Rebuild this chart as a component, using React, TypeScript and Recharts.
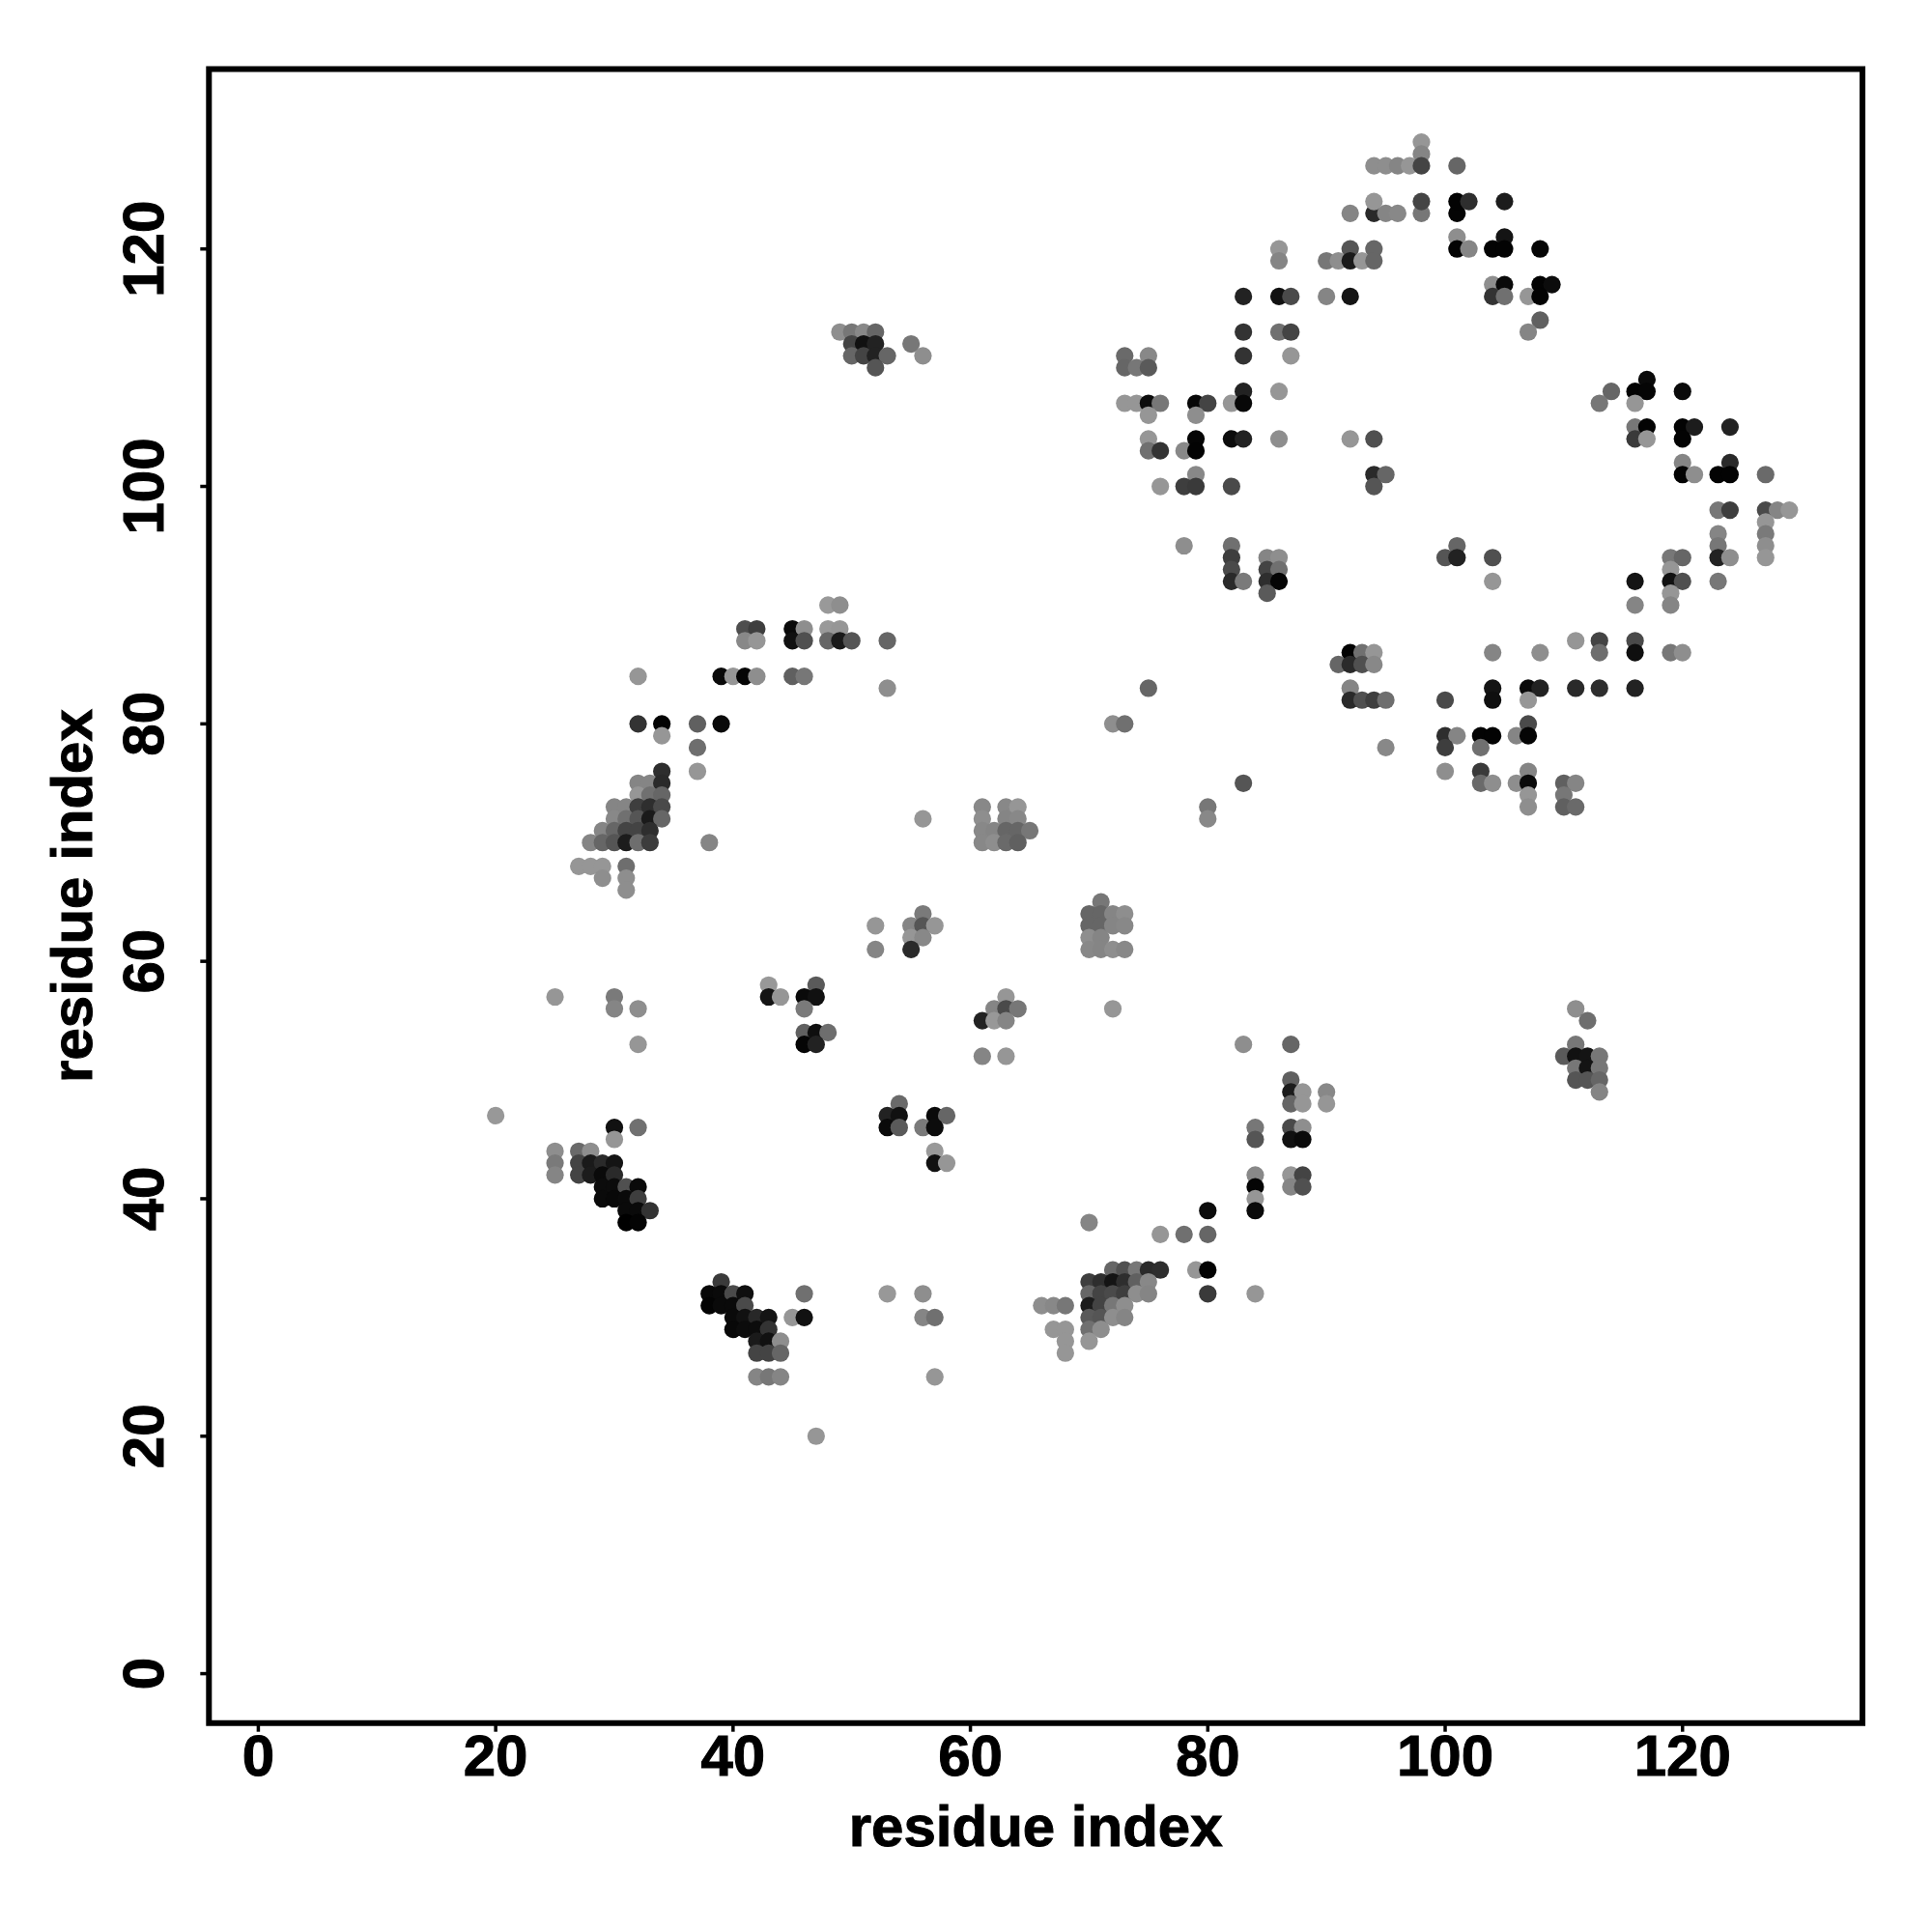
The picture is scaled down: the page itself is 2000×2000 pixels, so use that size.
import React from 'react';
import { ScatterChart, Scatter, XAxis, YAxis, ReferenceArea, Label } from 'recharts';

type P = [number, number, number];

const tickValues = [0, 20, 40, 60, 80, 100, 120];
const axisMin = -4.16;
const axisMax = 135.16;
const axisTitle = 'residue index';

// each entry: residue x, residue y, grey level
const helixTurnsLowerLeft: P[] = [
  [25,57,150],[30,57,122],[30,56,133],[32,56,142],[32,53,150],[20,47,152],
  [30,46,17],[32,46,112],[30,45,150],[25,44,142],[27,44,106],[28,44,142],
  [25,43,122],[27,43,68],[28,43,26],[29,43,42],[30,43,20],
  [25,42,133],[27,42,68],[28,42,28],[29,42,10],[30,42,42],
  [29,41,12],[30,41,12],[31,41,80],[32,41,10],
  [29,40,10],[30,40,8],[31,40,10],[32,40,62],
  [31,39,10],[32,39,10],[33,39,51],[31,38,0],[32,38,4],
];
const sheetLowerLeft: P[] = [
  [39,33,58],[38,32,8],[39,32,10],[40,32,74],[41,32,15],[46,32,112],[53,32,152],[56,32,142],
  [38,31,4],[39,31,10],[40,31,10],[41,31,74],
  [40,30,10],[41,30,17],[42,30,40],[43,30,20],[45,30,150],[46,30,17],[56,30,133],[57,30,112],
  [40,29,8],[41,29,12],[42,29,12],[43,29,51],
  [42,28,26],[43,28,17],[44,28,142],[42,27,68],[43,27,68],[44,27,102],
  [42,25,133],[43,25,119],[44,25,133],[57,25,150],[47,20,150],
];
const middlePatches: P[] = [
  [43,58,152],[47,58,90],[43,57,20],[44,57,150],[46,57,10],[47,57,17],[46,56,122],
  [46,54,96],[47,54,15],[48,54,110],[46,53,5],[47,53,34],
  [54,48,106],[53,47,34],[54,47,17],[57,47,10],[58,47,102],[53,46,10],[54,46,90],[56,46,122],[57,46,12],
  [57,44,153],[57,43,17],[58,43,150],
  [63,57,150],[62,56,133],[63,56,74],[64,56,119],[61,55,34],[62,55,152],[63,55,133],[61,52,133],[63,52,150],[72,56,150],
  [52,63,150],[52,61,133],[56,64,122],[55,63,133],[56,63,85],[57,63,150],[55,62,150],[56,62,136],[55,61,42],
  [61,73,136],[63,73,136],[64,73,150],[61,72,142],[63,72,133],[64,72,136],
  [61,71,136],[62,71,133],[63,71,102],[64,71,102],[65,71,119],
  [61,70,136],[62,70,142],[63,70,106],[64,70,96],[80,73,119],[80,72,136],[56,72,150],
  [71,65,119],[70,64,102],[71,64,102],[72,64,133],[73,64,142],
  [70,63,102],[71,63,102],[72,63,133],[73,63,136],[70,62,142],[71,62,133],
  [70,61,136],[71,61,133],[72,61,142],[73,61,136],
  [72,80,142],[73,80,112],[83,75,85],[75,83,102],
];
const sheetLowerRight: P[] = [
  [83,53,142],[87,53,102],[87,50,96],[87,49,28],[88,49,150],[90,49,136],[87,48,102],[88,48,150],[90,48,150],
  [84,46,119],[87,46,74],[88,46,142],[84,45,85],[87,45,17],[88,45,10],
  [84,42,136],[87,42,150],[88,42,68],[84,41,5],[87,41,133],[88,41,80],[84,40,150],[80,39,12],[84,39,10],
  [70,38,133],[76,37,150],[78,37,112],[80,37,102],
  [72,34,102],[73,34,80],[74,34,119],[75,34,42],[76,34,46],[79,34,150],[80,34,3],
  [70,33,62],[71,33,46],[72,33,20],[73,33,46],[74,33,96],[75,33,136],
  [70,32,102],[71,32,68],[72,32,74],[73,32,62],[74,32,142],[75,32,133],[80,32,58],[84,32,150],
  [66,31,142],[67,31,136],[68,31,119],[70,31,28],[71,31,68],[72,31,119],[73,31,142],
  [70,30,90],[71,30,85],[72,30,142],[73,30,133],
  [67,29,150],[68,29,150],[70,29,112],[71,29,142],[68,28,150],[70,28,150],[68,27,150],
];
const helixMiddleLeft: P[] = [
  [48,90,153],[49,90,142],[41,88,78],[42,88,62],[45,88,10],[46,88,142],[48,88,153],[49,88,150],
  [41,87,136],[42,87,150],[45,87,17],[46,87,80],[48,87,102],[49,87,26],[50,87,85],[53,87,102],
  [32,84,150],[39,84,10],[40,84,150],[41,84,5],[42,84,142],[45,84,96],[46,84,119],[53,83,142],
  [32,80,51],[34,80,3],[37,80,96],[39,80,10],[34,79,150],[37,78,110],[37,76,150],[34,76,46],
  [32,75,133],[33,75,133],[34,75,42],[32,74,150],[33,74,112],[34,74,102],
  [30,73,133],[31,73,133],[32,73,62],[33,73,46],[34,73,74],
  [30,72,136],[31,72,112],[32,72,85],[33,72,26],[34,72,102],
  [29,71,133],[30,71,102],[31,71,68],[32,71,68],[33,71,46],
  [28,70,133],[29,70,102],[30,70,85],[31,70,28],[32,70,110],[33,70,60],[38,70,133],
  [27,68,150],[28,68,150],[29,68,150],[31,68,110],[29,67,142],[31,67,142],[31,66,142],
  [49,113,142],[50,113,119],[51,113,136],[52,113,102],[50,112,68],[51,112,17],[52,112,34],[55,112,119],
  [50,111,102],[51,111,68],[52,111,34],[53,111,102],[56,111,142],[52,110,85],
];
const strandUpperRight: P[] = [
  [98,129,150],[98,128,133],[94,127,142],[95,127,142],[96,127,133],[97,127,150],[98,127,68],[101,127,102],
  [94,123,42],[92,123,133],[95,123,133],[96,123,136],[98,123,119],[101,123,5],
  [94,124,150],[98,124,68],[101,124,3],[102,124,46],[105,124,28],
  [101,121,142],[105,121,20],[86,120,150],[92,120,85],[94,120,102],[101,120,3],[102,120,133],[104,120,3],[105,120,3],[108,120,5],
  [86,119,133],[90,119,119],[91,119,142],[92,119,26],[93,119,150],[94,119,102],
  [104,117,142],[105,117,10],[108,117,3],[109,117,12],
  [83,116,34],[86,116,17],[87,116,74],[90,116,133],[92,116,20],[104,116,51],[105,116,112],[107,116,150],[108,116,3],
  [108,114,96],[107,113,133],[83,113,51],[86,113,112],[87,113,68],
  [83,111,51],[87,111,150],[73,111,106],[75,111,136],[73,110,102],[74,110,119],[75,110,90],
  [83,108,34],[86,108,150],[73,107,150],[74,107,150],[75,107,12],[76,107,119],[79,107,8],[80,107,68],[82,107,150],[83,107,8],
  [75,106,150],[79,106,142],[75,104,150],[79,104,5],[82,104,12],[83,104,34],[86,104,142],[92,104,150],[94,104,80],
  [75,103,112],[76,103,51],[78,103,136],[79,103,3],[79,101,136],[94,101,42],[95,101,102],
  [76,100,150],[78,100,62],[79,100,58],[82,100,74],[94,100,85],
  [78,95,142],[82,95,112],[82,94,62],[85,94,133],[86,94,142],[82,93,74],[85,93,68],[86,93,112],
  [82,92,42],[83,92,122],[85,92,46],[86,92,5],[85,91,90],
];
const strandFarRight: P[] = [
  [117,109,10],[114,108,102],[116,108,3],[117,108,5],[120,108,10],[113,107,119],[116,107,150],
  [116,105,119],[117,105,3],[120,105,3],[121,105,28],[124,105,34],[116,104,58],[117,104,150],[120,104,3],
  [120,102,133],[124,102,42],[120,101,3],[121,101,142],[123,101,3],[124,101,3],[127,101,106],
  [123,98,119],[124,98,62],[127,98,74],[128,98,133],[129,98,150],[127,97,150],[123,96,133],[127,96,122],[123,95,119],[127,95,142],
  [101,95,102],[100,94,85],[101,94,34],[104,94,80],[119,94,119],[120,94,102],[123,94,34],[124,94,142],[127,94,150],
  [119,93,150],[104,92,150],[116,92,20],[119,92,17],[120,92,80],[123,92,119],[119,91,150],[116,90,133],[119,90,133],
];
const strandLowerRight: P[] = [
  [111,87,150],[113,87,68],[116,87,74],[92,86,3],[93,86,112],[94,86,150],[104,86,133],[108,86,142],[113,86,110],[116,86,15],[119,86,119],[120,86,142],
  [91,85,102],[92,85,42],[93,85,80],[94,85,136],
  [92,83,133],[104,83,20],[107,83,10],[108,83,34],[111,83,42],[113,83,46],[116,83,34],
  [92,82,42],[93,82,80],[94,82,62],[95,82,110],[100,82,74],[104,82,15],[107,82,150],[107,80,74],
  [100,79,46],[101,79,133],[103,79,3],[104,79,3],[106,79,133],[107,79,5],
  [95,78,136],[100,78,62],[103,78,112],[100,76,142],[103,76,58],[107,76,133],
  [103,75,106],[104,75,142],[106,75,142],[107,75,10],[110,75,96],[111,75,133],[107,74,150],[110,74,119],[107,73,142],[110,73,96],[111,73,106],
  [111,56,142],[112,55,110],[111,53,119],[110,52,90],[111,52,17],[112,52,20],[113,52,119],[111,51,119],[112,51,20],[113,51,119],
  [111,50,85],[112,50,85],[113,50,102],[113,49,133],
];

const contacts = [
  ...helixTurnsLowerLeft, ...sheetLowerLeft, ...middlePatches, ...sheetLowerRight,
  ...helixMiddleLeft, ...strandUpperRight, ...strandFarRight, ...strandLowerRight,
].map(([x, y, level]) => ({ x, y, level }));

const grey = (l: number) => `rgb(${l},${l},${l})`;
const FONT = '"Liberation Sans", Arial, sans-serif';
const HEAVY = 1;

const Dot = (p: any) => <circle cx={p.cx} cy={p.cy} r={9.1} fill={grey(p.payload.level)} />;

const XTick = (p: any) => (
  <text x={p.x} y={p.y + 43} textAnchor="middle" fontFamily={FONT} fontWeight={700} fontSize={60} fill="#000" stroke="#000" strokeWidth={HEAVY}>
    {p.payload.value}
  </text>
);
const YTick = (p: any) => (
  <text
    x={p.x - 36}
    y={p.y}
    textAnchor="middle"
    transform={`rotate(-90 ${p.x - 36} ${p.y})`}
    fontFamily={FONT}
    fontWeight={700}
    fontSize={60}
    fill="#000"
    stroke="#000"
    strokeWidth={HEAVY}
  >
    {p.payload.value}
  </text>
);

export default function App() {
  return (
    <div style={{ position: 'absolute', left: 0, top: 0, width: 2000, height: 2000, background: '#fff' }}>
      <ScatterChart width={2000} height={2000} margin={{ top: 71.4, right: 72, bottom: 0, left: 0 }}>
        <XAxis
          type="number"
          dataKey="x"
          domain={[axisMin, axisMax]}
          ticks={tickValues}
          interval={0}
          height={216.3}
          tickSize={9}
          tickLine={{ stroke: '#000', strokeWidth: 3.5 }}
          axisLine={false}
          tick={<XTick />}
        >
          <Label
            value={axisTitle}
            position="insideBottom"
            offset={89}
            style={{ fontFamily: FONT, fontWeight: 700, fontSize: 60, fill: '#000', stroke: '#000', strokeWidth: HEAVY }}
          />
        </XAxis>
        <YAxis
          type="number"
          dataKey="y"
          domain={[axisMin, axisMax]}
          ticks={tickValues}
          interval={0}
          width={216.3}
          tickSize={9}
          tickLine={{ stroke: '#000', strokeWidth: 3.5 }}
          axisLine={false}
          tick={<YTick />}
        >
          <Label
            value={axisTitle}
            angle={-90}
            position="insideLeft"
            offset={74}
            style={{ fontFamily: FONT, fontWeight: 700, fontSize: 60, fill: '#000', textAnchor: 'middle', stroke: '#000', strokeWidth: HEAVY }}
          />
        </YAxis>
        <ReferenceArea
          x1={axisMin}
          x2={axisMax}
          y1={axisMin}
          y2={axisMax}
          fill="none"
          stroke="#000"
          strokeWidth={6}
          ifOverflow="visible"
        />
        <Scatter data={contacts} isAnimationActive={false} shape={<Dot />} />
      </ScatterChart>
    </div>
  );
}
